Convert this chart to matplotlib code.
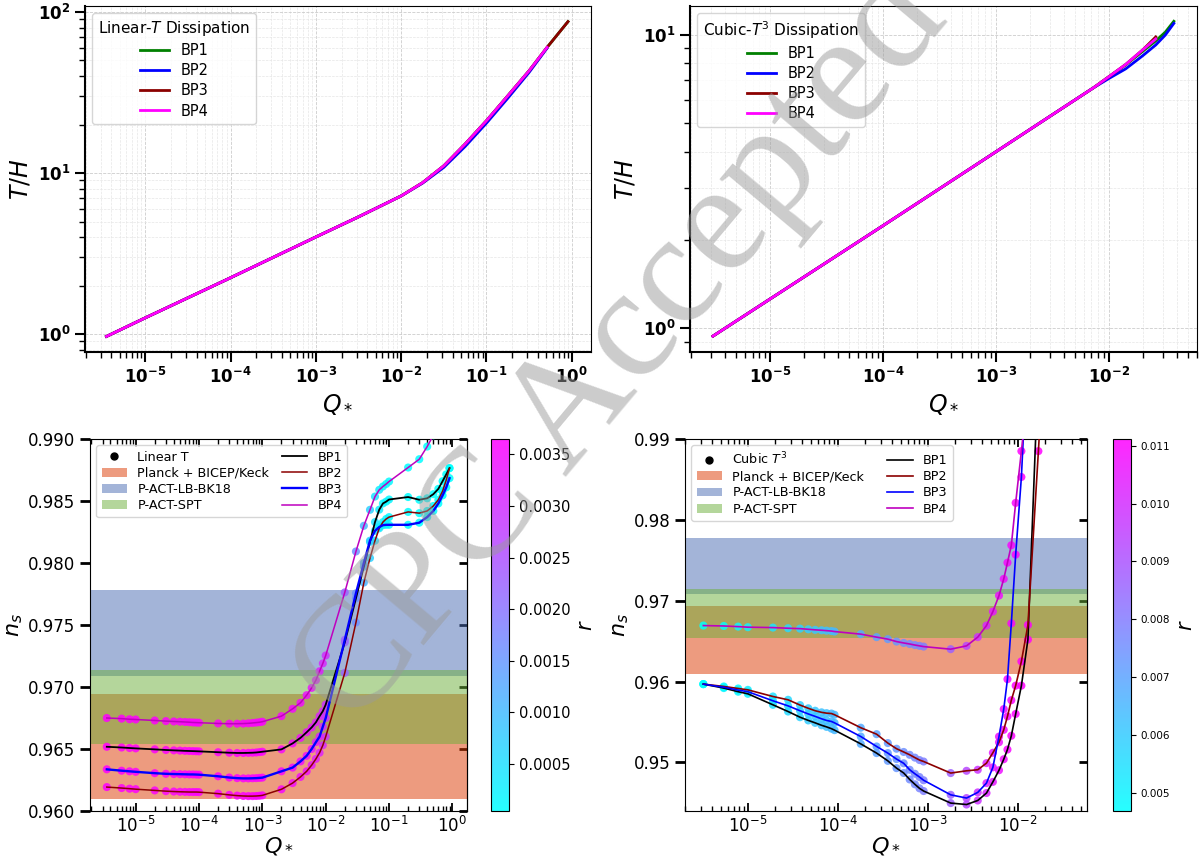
import numpy as np
import matplotlib
matplotlib.use('Agg')
import matplotlib.pyplot as plt
from matplotlib.lines import Line2D
from matplotlib.patches import Patch
from matplotlib.ticker import FuncFormatter, NullFormatter

# ---------------- data: T/H vs Q*, linear-T dissipation ----------------
q_lin_th = [3.5e-6, 1e-5, 1e-4, 1e-3, 3.16e-3, 1e-2, 1.78e-2, 3.16e-2,
            5.62e-2, 0.1, 0.178, 0.316, 0.513, 0.902]
th_lin_bp1 = [0.967, 1.262, 2.239, 4.009, 5.346, 7.21, 8.71, 11.09,
              15.14, 21.13, 30.2, 43.15, 60.26, 87.1]
th_lin_bp2 = [0.967, 1.262, 2.239, 4.009, 5.346, 7.21, 8.65, 10.84,
              14.62, 20.42, 29.17, 42.17, 59.57]
th_lin_bp3 = [0.967, 1.262, 2.239, 4.009, 5.346, 7.21, 8.71, 11.09,
              15.14, 21.13, 30.2, 43.15, 60.26, 87.1]
th_lin_bp4 = [0.967, 1.262, 2.239, 4.009, 5.346, 7.21, 8.71, 11.09,
              15.14, 21.13, 30.2, 43.15, 60.26]

# ---------------- data: T/H vs Q*, cubic-T^3 dissipation ----------------
q_cub_th = [3.11e-6, 1e-5, 1e-4, 1e-3, 3.16e-3, 7.31e-3, 1e-2, 1.41e-2,
            2e-2, 2.6e-2, 3.16e-2, 3.76e-2]
th_cub_bp1 = [0.94, 1.259, 2.239, 4.0, 5.35, 6.61, 7.21, 7.91, 8.81, 9.55, 10.23, 11.14]
th_cub_bp2 = [0.94, 1.259, 2.239, 4.0, 5.35, 6.61, 7.11, 7.67, 8.51, 9.25, 10.0, 10.96]
th_cub_bp3 = [0.94, 1.259, 2.239, 4.0, 5.35, 6.61, 7.21, 7.94, 8.91, 9.85]
th_cub_bp4 = [0.94, 1.259, 2.239, 4.0, 5.35, 6.61, 7.21, 7.94, 8.91, 9.70]

# ---------------- data: n_s vs Q*, linear T ----------------
q_lin = [3.5e-6, 6e-6, 8e-6,
         1e-5, 2e-5, 3e-5, 4e-5, 5e-5, 6e-5, 7e-5, 8e-5, 9e-5,
         1e-4, 2e-4, 3e-4, 4e-4, 5e-4, 6e-4, 7e-4, 8e-4, 9e-4,
         1e-3, 2e-3, 3e-3, 4e-3, 5e-3, 6e-3, 7e-3, 8e-3, 9e-3,
         1e-2, 2e-2, 3e-2, 4e-2, 5e-2, 6e-2, 7e-2, 8e-2, 9e-2,
         0.1, 0.2, 0.3, 0.4, 0.5, 0.6, 0.7, 0.8, 0.9]
ns_lin_bp1 = [0.96518, 0.96512, 0.96508,
              0.96505, 0.96497, 0.96492, 0.96489, 0.96487, 0.96485, 0.96484, 0.96483, 0.96482,
              0.96481, 0.96474, 0.96470, 0.96468, 0.96468, 0.96469, 0.96470, 0.96472, 0.96475,
              0.96478, 0.96497, 0.96545, 0.96590, 0.96635, 0.96674, 0.96715, 0.96765, 0.96805,
              0.96858, 0.97360, 0.97715, 0.97970, 0.98170, 0.98330, 0.98430, 0.98480, 0.98495,
              0.98512, 0.98532, 0.98510, 0.98522, 0.98555, 0.98598, 0.98660, 0.98715, 0.98765]
ns_lin_bp2 = [0.96193, 0.96185, 0.96180,
              0.96176, 0.96166, 0.96160, 0.96157, 0.96155, 0.96154, 0.96153, 0.96153, 0.96153,
              0.96152, 0.96140, 0.96130, 0.96124, 0.96121, 0.96120, 0.96120, 0.96121, 0.96123,
              0.96126, 0.96175, 0.96225, 0.96275, 0.96320, 0.96370, 0.96420, 0.96470, 0.96530,
              0.96600, 0.97114, 0.97520, 0.97842, 0.98040, 0.98180, 0.98280, 0.98330, 0.98355,
              0.98370, 0.98412, 0.98402, 0.98420, 0.98460, 0.98510, 0.98580, 0.98670, 0.98765]
ns_lin_bp3 = [0.96336, 0.96325, 0.96320,
              0.96316, 0.96305, 0.96300, 0.96298, 0.96297, 0.96296, 0.96295, 0.96295, 0.96294,
              0.96293, 0.96280, 0.96270, 0.96265, 0.96263, 0.96263, 0.96264, 0.96265, 0.96267,
              0.96269, 0.96320, 0.96350, 0.96400, 0.96445, 0.96500, 0.96555, 0.96600, 0.96680,
              0.96750, 0.97380, 0.97755, 0.98000, 0.98180, 0.98260, 0.98290, 0.98305, 0.98308,
              0.98308, 0.98308, 0.98325, 0.98370, 0.98420, 0.98480, 0.98545, 0.98610, 0.98684]
ns_lin_bp4 = [0.96750, 0.96745, 0.96740,
              0.96738, 0.96730, 0.96725, 0.96722, 0.96720, 0.96718, 0.96716, 0.96714, 0.96713,
              0.96712, 0.96706, 0.96704, 0.96704, 0.96705, 0.96707, 0.96710, 0.96713, 0.96716,
              0.96720, 0.96765, 0.96824, 0.96873, 0.96934, 0.96993, 0.97055, 0.97127, 0.97190,
              0.97254, 0.97763, 0.98093, 0.98300, 0.98429, 0.98536, 0.98590, 0.98617, 0.98637,
              0.98657, 0.98770, 0.98837, 0.98939, 0.99030, 0.99120, 0.99200, 0.99280, 0.99350]
r_lin = [0.00364, 0.00364, 0.00363,
         0.00363, 0.00363, 0.00362, 0.00362, 0.00362, 0.00362, 0.00362, 0.00362, 0.00362,
         0.00362, 0.00362, 0.00361, 0.00361, 0.00361, 0.00361, 0.00361, 0.00360, 0.00360,
         0.00360, 0.00355, 0.00350, 0.00345, 0.00340, 0.00333, 0.00325, 0.00316, 0.00305,
         0.00295, 0.00220, 0.00160, 0.00110, 0.00070, 0.00045, 0.00030, 0.00022, 0.00017,
         0.00014, 0.00008, 0.00006, 0.00005, 0.00005, 0.00004, 0.00004, 0.00004, 0.00004]

# ---------------- data: n_s vs Q*, cubic T^3 ----------------
q_cub = [3.2e-6, 5.4e-6, 7.8e-6,
         1.0e-5, 1.9e-5, 2.8e-5, 3.8e-5, 4.7e-5, 5.6e-5, 6.6e-5, 7.5e-5, 8.5e-5,
         9.2e-5, 1.8e-4, 2.7e-4, 3.6e-4, 4.5e-4, 5.4e-4, 6.3e-4, 7.2e-4, 8.1e-4,
         9.0e-4, 1.8e-3, 2.7e-3, 3.6e-3, 4.5e-3, 5.3e-3, 6.2e-3, 7.0e-3, 7.7e-3,
         8.5e-3, 9.5e-3, 1.1e-2, 1.3e-2, 1.7e-2, 2.2e-2]
ns_cub_bp1 = [0.95969, 0.95920, 0.95875,
              0.95849, 0.95713, 0.95630, 0.95560, 0.95520, 0.95490, 0.95460, 0.95440, 0.95418,
              0.95400, 0.95230, 0.95116, 0.95020, 0.94930, 0.94870, 0.94790, 0.94730, 0.94680,
              0.94647, 0.94498, 0.94480, 0.94530, 0.94622, 0.94760, 0.94904, 0.95040, 0.95160,
              0.95330, 0.95600, 0.95950, 0.96520, 0.99900, 1.03000]
ns_cub_bp2 = [0.95969, 0.95940, 0.95915,
              0.95898, 0.95816, 0.95775, 0.95710, 0.95670, 0.95640, 0.95620, 0.95610, 0.95605,
              0.95590, 0.95430, 0.95350, 0.95240, 0.95170, 0.95130, 0.95095, 0.95060, 0.95030,
              0.95012, 0.94869, 0.94897, 0.94910, 0.94992, 0.95120, 0.95250, 0.95404, 0.95570,
              0.95770, 0.95950, 0.96250, 0.96700, 0.98850, 1.01000]
ns_cub_bp3 = [0.95969, 0.95930, 0.95895,
              0.95875, 0.95763, 0.95700, 0.95640, 0.95600, 0.95570, 0.95540, 0.95520, 0.95507,
              0.95490, 0.95321, 0.95198, 0.95116, 0.95042, 0.94990, 0.94910, 0.94860, 0.94820,
              0.94780, 0.94600, 0.94560, 0.94630, 0.94745, 0.94940, 0.95320, 0.95660, 0.96030,
              0.96720, 0.97570, 0.98530, 1.00200, 1.03000, 1.06000]
ns_cub_bp4 = [0.96693, 0.96688, 0.96680,
              0.96673, 0.96668, 0.96660, 0.96655, 0.96647, 0.96640, 0.96635, 0.96630, 0.96625,
              0.96619, 0.96587, 0.96550, 0.96525, 0.96495, 0.96478, 0.96465, 0.96452, 0.96442,
              0.96433, 0.96401, 0.96442, 0.96550, 0.96693, 0.96866, 0.97064, 0.97270, 0.97471,
              0.97686, 0.98210, 0.98850, 0.99600, 1.01000, 1.03000]
r_cub = [0.00470, 0.00487, 0.00500,
         0.00513, 0.00545, 0.00565, 0.00584, 0.00597, 0.00610, 0.00623, 0.00629, 0.00642,
         0.00648, 0.00680, 0.00700, 0.00720, 0.00732, 0.00745, 0.00758, 0.00764, 0.00777,
         0.00790, 0.00867, 0.00932, 0.00983, 0.01020, 0.01048, 0.01067, 0.01080, 0.01093,
         0.01099, 0.01106, 0.01110, 0.01110, 0.01110, 0.01110]

# observational n_s bands (low, high)
band_names = ['Planck + BICEP/Keck', 'P-ACT-LB-BK18', 'P-ACT-SPT']
band_ranges = [(0.9610, 0.9694), (0.97085, 0.9778), (0.9654, 0.9714)]
band_colors = ['#dd3900', '#496bb3', '#6aaf38']

bp_labels = ['BP1', 'BP2', 'BP3', 'BP4']


def bold_pow(v, pos):
    e = int(round(np.log10(v)))
    return r'$\mathbf{10}^{\mathbf{%d}}$' % e


def style_top(ax):
    ax.set_xscale('log')
    ax.set_yscale('log')
    ax.grid(True, which='major', ls='--', lw=0.6, color='#cccccc')
    ax.grid(True, which='minor', ls='--', lw=0.5, color='#e6e6e6')
    ax.tick_params(which='major', direction='out', length=7, width=1.5, labelsize=12)
    ax.tick_params(which='minor', direction='out', length=4, width=1.0)
    ax.xaxis.set_major_formatter(FuncFormatter(bold_pow))
    ax.yaxis.set_major_formatter(FuncFormatter(bold_pow))
    ax.xaxis.set_minor_formatter(NullFormatter())
    ax.yaxis.set_minor_formatter(NullFormatter())
    for s in ['left', 'bottom']:
        ax.spines[s].set_linewidth(1.5)
    ax.set_xlabel('$Q_*$', fontsize=17)
    ax.set_ylabel('$T/H$', fontsize=17)


def style_bottom(ax):
    ax.set_xscale('log')
    ax.tick_params(axis='x', which='major', direction='in', top=True, bottom=True,
                   length=6, width=1.3, labelsize=12)
    ax.tick_params(axis='x', which='minor', direction='in', top=True, bottom=True,
                   length=3.5, width=1.0)
    ax.tick_params(axis='y', which='major', direction='out', length=7, width=2,
                   labelsize=12)
    sec = ax.secondary_yaxis('right')
    sec.tick_params(direction='in', length=6, width=2, labelright=False)
    ax.set_xlabel('$Q_*$', fontsize=16, labelpad=0)
    ax.set_ylabel('$n_s$', fontsize=16, labelpad=2)


fig = plt.figure(figsize=(12, 8.58), dpi=100)

# ---------------- top-left ----------------
ax_tl = fig.add_axes([85/1200, 1-352/858, 506/1200, 346/858])
top_colors = ['green', 'blue', 'darkred', 'magenta']
for th, c, lab in zip([th_lin_bp1, th_lin_bp2, th_lin_bp3, th_lin_bp4], top_colors, bp_labels):
    ax_tl.plot(q_lin_th[:len(th)], th, color=c, lw=2, label=lab)
style_top(ax_tl)
ax_tl.set_xlim(1.96e-6, 1.68)
ax_tl.set_ylim(0.774, 108.9)
ax_tl.legend(title='Linear-$T$ Dissipation', loc='upper left', fontsize=10.5,
             title_fontsize=11, labelspacing=0.35)

# ---------------- top-right ----------------
ax_tr = fig.add_axes([690/1200, 1-352/858, 507/1200, 346/858])
for th, c, lab in zip([th_cub_bp1, th_cub_bp2, th_cub_bp3, th_cub_bp4], top_colors, bp_labels):
    ax_tr.plot(q_cub_th[:len(th)], th, color=c, lw=2, label=lab)
style_top(ax_tr)
ax_tr.set_xlim(1.95e-6, 6.03e-2)
ax_tr.set_ylim(0.83, 12.56)
ax_tr.legend(title='Cubic-$T^3$ Dissipation', loc='upper left', fontsize=10.5,
             title_fontsize=11, labelspacing=0.35)


def bottom_panel(ax, cax, q, series, r, vmin, vmax, first_label, lws, ticks, fmt,
                 cb_size, colspace):
    for (lo, hi), col in zip(band_ranges, band_colors):
        ax.axhspan(lo, hi, color=col, alpha=0.5, lw=0, zorder=1)
    sc = None
    for ns in series:
        sc = ax.scatter(q, ns, c=r, cmap='cool', vmin=vmin, vmax=vmax, s=34,
                        alpha=0.85, lw=0, zorder=3)
    for ns, col, lw in zip(series, ['black', 'darkred', 'blue', 'm'], lws):
        ax.plot(q, ns, color=col, lw=lw, zorder=4)
    style_bottom(ax)
    handles = [Line2D([], [], marker='o', color='k', ls='', markersize=5)]
    handles += [Patch(facecolor=c, alpha=0.5, edgecolor='none') for c in band_colors]
    handles += [Line2D([], [], color=c, lw=lw) for c, lw in
                zip(['black', 'darkred', 'blue', 'm'], lws)]
    labels = [first_label] + band_names + bp_labels
    ax.legend(handles, labels, ncol=2, loc='upper left', fontsize=9.2,
              labelspacing=0.25, columnspacing=colspace, framealpha=0.8)
    cb = fig.colorbar(sc, cax=cax)
    cb.set_ticks(ticks)
    cb.set_ticklabels([fmt % t for t in ticks])
    cb.ax.tick_params(labelsize=cb_size)
    cb.set_label('$r$', fontsize=15)
    return cb


# ---------------- bottom-left ----------------
ax_bl = fig.add_axes([90/1200, 1-811/858, 377/1200, 372/858])
cax_bl = fig.add_axes([491/1200, 1-811/858, 18/1200, 372/858])
bottom_panel(ax_bl, cax_bl, q_lin, [ns_lin_bp1, ns_lin_bp2, ns_lin_bp3, ns_lin_bp4],
             r_lin, 0.00004, 0.00365, 'Linear T', [1.3, 1.1, 1.7, 1.1],
             [0.0005, 0.0010, 0.0015, 0.0020, 0.0025, 0.0030, 0.0035], '%.4f', 10.5, 1.0)
ax_bl.set_xlim(1.9e-6, 1.7)
ax_bl.set_ylim(0.960, 0.990)

# ---------------- bottom-right ----------------
ax_br = fig.add_axes([685/1200, 1-811/858, 402/1200, 372/858])
cax_br = fig.add_axes([1113/1200, 1-811/858, 18/1200, 372/858])
bottom_panel(ax_br, cax_br, q_cub, [ns_cub_bp1, ns_cub_bp2, ns_cub_bp3, ns_cub_bp4],
             r_cub, 0.00468, 0.01112, 'Cubic $T^3$', [1.2, 1.2, 1.2, 1.2],
             [0.005, 0.006, 0.007, 0.008, 0.009, 0.010, 0.011], '%.3f', 7.5, 1.8)
ax_br.set_xlim(2.0e-6, 5.9e-2)
ax_br.set_ylim(0.944, 0.990)

# journal watermark
fig.text(0.518, 0.592, 'CPC Accepted', rotation=50, fontsize=114,
         family='Liberation Serif', color='#9a9a9a', alpha=0.5,
         ha='center', va='center')

fig.savefig('out.png', dpi=100)
